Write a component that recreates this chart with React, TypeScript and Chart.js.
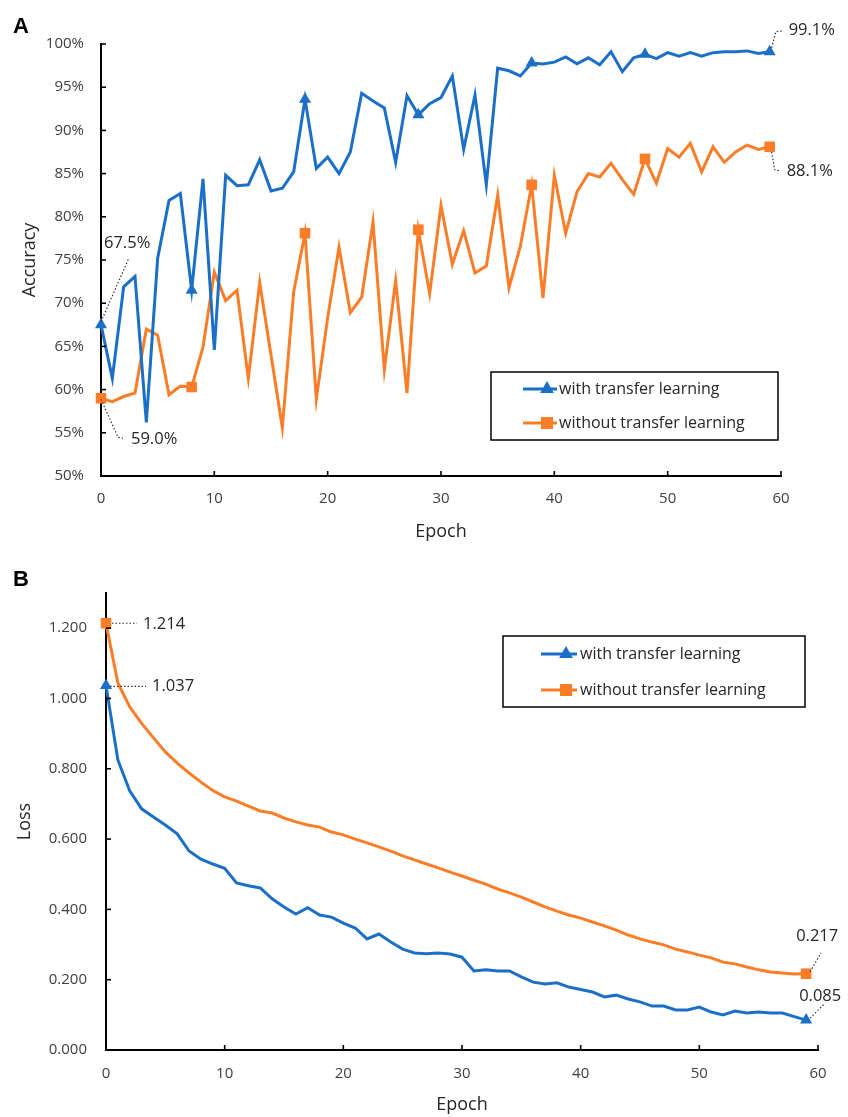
import React, { useEffect, useRef } from "react";
import { Chart, registerables } from "chart.js";
Chart.register(...registerables);

const FONT = "'Open Sans', 'Noto Sans', sans-serif";
const BLUE = "#1c6fc6";
const ORANGE = "#fb7d28";
const TEXT = "#262626";

const epochs = [
  0, 1, 2, 3, 4, 5, 6, 7, 8, 9, 10, 11, 12, 13, 14, 15, 16, 17, 18, 19,
  20, 21, 22, 23, 24, 25, 26, 27, 28, 29, 30, 31, 32, 33, 34, 35, 36, 37, 38, 39,
  40, 41, 42, 43, 44, 45, 46, 47, 48, 49, 50, 51, 52, 53, 54, 55, 56, 57, 58, 59,
];
const seriesNames = ["with transfer learning", "without transfer learning"];

const accWith = [
  67.5, 61.3, 71.9, 73.1, 56.2, 75.2, 81.9, 82.7, 71.5, 84.4,
  64.6, 84.8, 83.6, 83.7, 86.6, 83.0, 83.3, 85.2, 93.6, 85.6,
  86.9, 85.0, 87.5, 94.3, 93.4, 92.6, 86.3, 94.0, 91.8, 93.1,
  93.8, 96.3, 87.8, 94.1, 83.7, 97.2, 96.9, 96.3, 97.8, 97.7,
  97.9, 98.5, 97.7, 98.4, 97.6, 99.1, 96.8, 98.4, 98.8, 98.3,
  99.0, 98.6, 99.0, 98.6, 99.0, 99.1, 99.1, 99.2, 98.9, 99.1,
];
const accWithout = [
  59.0, 58.6, 59.2, 59.6, 67.0, 66.3, 59.4, 60.4, 60.3, 64.9,
  73.6, 70.3, 71.5, 61.3, 72.4, 64.0, 55.6, 71.3, 78.1, 58.9,
  68.3, 76.5, 68.9, 70.7, 79.4, 62.3, 72.6, 59.6, 78.5, 71.1,
  81.3, 74.5, 78.4, 73.5, 74.3, 82.5, 71.8, 76.6, 83.7, 70.6,
  84.8, 78.1, 82.9, 85.0, 84.6, 86.2, 84.3, 82.6, 86.7, 83.9,
  87.9, 86.9, 88.5, 85.2, 88.1, 86.3, 87.5, 88.3, 87.8, 88.1,
];
const lossWith = [
  1.037, 0.825, 0.737, 0.686, 0.663, 0.640, 0.615, 0.566, 0.543, 0.529,
  0.517, 0.475, 0.467, 0.461, 0.430, 0.407, 0.387, 0.405, 0.384, 0.378,
  0.361, 0.347, 0.316, 0.330, 0.307, 0.287, 0.276, 0.274, 0.276, 0.273,
  0.264, 0.225, 0.228, 0.225, 0.225, 0.208, 0.193, 0.188, 0.191, 0.179,
  0.172, 0.165, 0.151, 0.156, 0.145, 0.137, 0.125, 0.125, 0.114, 0.114,
  0.122, 0.108, 0.100, 0.111, 0.105, 0.108, 0.105, 0.105, 0.095, 0.085,
];
const lossWithout = [
  1.214, 1.044, 0.976, 0.929, 0.888, 0.848, 0.816, 0.788, 0.762, 0.738,
  0.720, 0.708, 0.694, 0.680, 0.674, 0.660, 0.649, 0.640, 0.634, 0.620,
  0.612, 0.600, 0.589, 0.578, 0.566, 0.552, 0.541, 0.529, 0.518, 0.506,
  0.495, 0.483, 0.472, 0.458, 0.447, 0.435, 0.421, 0.407, 0.395, 0.384,
  0.375, 0.364, 0.353, 0.341, 0.327, 0.316, 0.307, 0.299, 0.287, 0.279,
  0.270, 0.262, 0.250, 0.245, 0.236, 0.228, 0.222, 0.219, 0.216, 0.217,
];

const accTicks = [50, 55, 60, 65, 70, 75, 80, 85, 90, 95, 100];
const lossTicks = [0, 0.2, 0.4, 0.6, 0.8, 1.0, 1.2];
const epochTicks = [0, 10, 20, 30, 40, 50, 60];
const accMarkers = [0, 8, 18, 28, 38, 48, 59];
const lossMarkers = [0, 59];

type Ann = { ds: number; idx: number; text: string; path: number[][]; tx: number; ty: number };

const accAnns: Ann[] = [
  { ds: 0, idx: 0, text: "67.5%", path: [[0, -3], [28, -67]], tx: 3, ty: -82 },
  { ds: 1, idx: 0, text: "59.0%", path: [[0, 1], [17, 39], [22, 40]], tx: 30, ty: 41 },
  { ds: 0, idx: 59, text: "99.1%", path: [[2, -4], [6, -20], [14, -21]], tx: 19, ty: -21 },
  { ds: 1, idx: 59, text: "88.1%", path: [[2, 5], [5, 23], [10, 24]], tx: 17, ty: 24 },
];
const lossAnns: Ann[] = [
  { ds: 1, idx: 0, text: "1.214", path: [[6, 0], [31, 0]], tx: 37, ty: 1 },
  { ds: 0, idx: 0, text: "1.037", path: [[4, 1], [40, 1]], tx: 46, ty: 1 },
  { ds: 1, idx: 59, text: "0.217", path: [[4, -2], [15, -21]], tx: -10, ty: -37 },
  { ds: 0, idx: 59, text: "0.085", path: [[4, -2], [19, -17]], tx: -7, ty: -24 },
];

function marker(ctx: CanvasRenderingContext2D, style: string, x: number, y: number, r: number, color: string) {
  ctx.save();
  ctx.fillStyle = color;
  ctx.beginPath();
  if (style === "triangle") {
    ctx.moveTo(x, y - r);
    ctx.lineTo(x + r * 0.866, y + r * 0.5);
    ctx.lineTo(x - r * 0.866, y + r * 0.5);
    ctx.closePath();
  } else {
    const s = r * Math.SQRT1_2;
    ctx.rect(x - s, y - s, 2 * s, 2 * s);
  }
  ctx.fill();
  ctx.restore();
}

function makeDataset(label: string, values: number[], color: string, style: string, markers: number[], r: number) {
  return {
    label,
    data: values.map((v, i) => ({ x: epochs[i], y: v })),
    borderColor: color,
    backgroundColor: color,
    borderWidth: 3,
    pointStyle: style,
    pointRadius: (c: any) => (markers.includes(c.dataIndex) ? r : 0),
    pointHoverRadius: 0,
    pointBorderWidth: 0,
    tension: 0,
    clip: false as any,
    fill: false,
  };
}

type Cfg = {
  height: number;
  pad: { top: number; right: number };
  yWidth: number;
  xHeight: number;
  yMin: number;
  yMax: number;
  yTicks: number[];
  yFmt: (v: number) => string;
  yTitle: string;
  yTitlePad: number;
  yTickPad: number;
  xTickPad: number;
  xTitlePad: number;
  a: number[];
  b: number[];
  markers: number[];
  anns: Ann[];
  panel: string;
  panelY: number;
  legend: { x1: number; y1: number; x2: number; y2: number; lx1: number; lx2: number; mx: number; tx: number; rows: number[] };
};

function buildChart(canvas: HTMLCanvasElement, cfg: Cfg) {
  const plugin = {
    id: "extras",
    afterDraw(chart: any) {
      const ctx: CanvasRenderingContext2D = chart.ctx;
      const { chartArea } = chart;
      const xs = chart.scales.x;
      const ys = chart.scales.y;
      ctx.save();
      // inner tick marks
      ctx.strokeStyle = "#000";
      ctx.lineWidth = 1.6;
      ys.ticks.forEach((_t: any, i: number) => {
        const py = ys.getPixelForTick(i);
        ctx.beginPath();
        ctx.moveTo(chartArea.left, py);
        ctx.lineTo(chartArea.left + 5, py);
        ctx.stroke();
      });
      xs.ticks.forEach((_t: any, i: number) => {
        const px = xs.getPixelForTick(i);
        ctx.beginPath();
        ctx.moveTo(px, chartArea.bottom);
        ctx.lineTo(px, chartArea.bottom - 5);
        ctx.stroke();
      });
      // annotations
      ctx.font = `16.5px ${FONT}`;
      ctx.textBaseline = "middle";
      ctx.textAlign = "left";
      cfg.anns.forEach((a) => {
        const el = chart.getDatasetMeta(a.ds).data[a.idx];
        const x0 = el.x;
        const y0 = el.y;
        ctx.strokeStyle = "#333";
        ctx.lineWidth = 1.2;
        ctx.setLineDash([1.5, 2]);
        ctx.beginPath();
        a.path.forEach((p, k) => {
          if (k === 0) ctx.moveTo(x0 + p[0], y0 + p[1]);
          else ctx.lineTo(x0 + p[0], y0 + p[1]);
        });
        ctx.stroke();
        ctx.setLineDash([]);
        ctx.fillStyle = TEXT;
        ctx.fillText(a.text, x0 + a.tx, y0 + a.ty);
      });
      // legend
      const L = cfg.legend;
      ctx.strokeStyle = "#000";
      ctx.lineWidth = 1.5;
      ctx.strokeRect(L.x1, L.y1, L.x2 - L.x1, L.y2 - L.y1);
      const colors = [BLUE, ORANGE];
      const styles = ["triangle", "rect"];
      ctx.font = `16px ${FONT}`;
      L.rows.forEach((ry, k) => {
        ctx.strokeStyle = colors[k];
        ctx.lineWidth = 3;
        ctx.beginPath();
        ctx.moveTo(L.lx1, ry);
        ctx.lineTo(L.lx2, ry);
        ctx.stroke();
        marker(ctx, styles[k], L.mx, ry, k === 0 ? 8 : 8.5, colors[k]);
        ctx.fillStyle = TEXT;
        ctx.fillText(seriesNames[k], L.tx, ry);
      });
      // panel letter
      ctx.font = `bold 22px 'Liberation Sans', Arial, sans-serif`;
      ctx.fillStyle = "#000";
      ctx.textBaseline = "alphabetic";
      ctx.fillText(cfg.panel, 13, cfg.panelY);
      ctx.restore();
    },
  };

  return new Chart(canvas, {
    type: "line",
    data: {
      datasets: [
        makeDataset(seriesNames[0], cfg.a, BLUE, "triangle", cfg.markers, 7),
        makeDataset(seriesNames[1], cfg.b, ORANGE, "rect", cfg.markers, 7.5),
      ] as any,
    },
    options: {
      animation: false,
      responsive: false,
      events: [],
      layout: { padding: { left: 0, top: cfg.pad.top, right: cfg.pad.right, bottom: 0 } },
      plugins: { legend: { display: false }, tooltip: { enabled: false } },
      scales: {
        x: {
          type: "linear",
          min: 0,
          max: 60,
          afterFit: (s: any) => { s.height = cfg.xHeight; },
          afterBuildTicks: (s: any) => { s.ticks = epochTicks.map((v) => ({ value: v })); },
          grid: { display: false },
          border: { display: true, color: "#000", width: 2 },
          ticks: { padding: cfg.xTickPad, color: "#404040", font: { family: FONT, size: 15 }, maxRotation: 0 },
          title: { display: true, text: "Epoch", color: TEXT, font: { family: FONT, size: 18 }, padding: { top: 0, bottom: cfg.xTitlePad } },
        },
        y: {
          type: "linear",
          min: cfg.yMin,
          max: cfg.yMax,
          afterFit: (s: any) => { s.width = cfg.yWidth; },
          afterBuildTicks: (s: any) => { s.ticks = cfg.yTicks.map((v) => ({ value: v })); },
          grid: { display: false },
          border: { display: true, color: "#000", width: 2 },
          ticks: { padding: cfg.yTickPad, color: "#404040", font: { family: FONT, size: 15 }, callback: (v: any) => cfg.yFmt(Number(v)) },
          title: { display: true, text: cfg.yTitle, color: TEXT, font: { family: FONT, size: 18 }, padding: { top: cfg.yTitlePad, bottom: 0 } },
        },
      },
    },
    plugins: [plugin],
  } as any);
}

const cfgA: Cfg = {
  height: 560,
  pad: { top: 44, right: 67 },
  yWidth: 101,
  xHeight: 84,
  yMin: 50,
  yMax: 100,
  yTicks: accTicks,
  yFmt: (v) => `${Math.round(v)}%`,
  yTitle: "Accuracy",
  yTitlePad: 19,
  yTickPad: 9,
  xTickPad: 6,
  xTitlePad: 17,
  a: accWith,
  b: accWithout,
  markers: accMarkers,
  anns: accAnns,
  panel: "A",
  panelY: 33,
  legend: { x1: 491, y1: 372, x2: 778, y2: 440, lx1: 523, lx2: 557, mx: 547, tx: 559, rows: [389, 423] },
};

const cfgB: Cfg = {
  height: 557,
  pad: { top: 33, right: 30 },
  yWidth: 106,
  xHeight: 67,
  yMin: 0,
  yMax: 1.3,
  yTicks: lossTicks,
  yFmt: (v) => v.toFixed(3),
  yTitle: "Loss",
  yTitlePad: 14,
  yTickPad: 11,
  xTickPad: 7,
  xTitlePad: 1,
  a: lossWith,
  b: lossWithout,
  markers: lossMarkers,
  anns: lossAnns,
  panel: "B",
  panelY: 26,
  legend: { x1: 503, y1: 76, x2: 805, y2: 147, lx1: 541, lx2: 577, mx: 566, tx: 580, rows: [94, 130] },
};

function Panel({ cfg, top }: { cfg: Cfg; top: number }) {
  const ref = useRef<HTMLCanvasElement | null>(null);
  useEffect(() => {
    if (!ref.current) return;
    const ch = buildChart(ref.current, cfg);
    return () => ch.destroy();
  }, [cfg]);
  return (
    <canvas
      ref={ref}
      width={848}
      height={cfg.height}
      style={{ position: "absolute", left: 0, top, width: 848, height: cfg.height, display: "block" }}
    />
  );
}

export default function App() {
  return (
    <div style={{ position: "absolute", left: 0, top: 0, width: 848, height: 1117, background: "#fff", overflow: "hidden" }}>
      <Panel cfg={cfgA} top={0} />
      <Panel cfg={cfgB} top={560} />
    </div>
  );
}
